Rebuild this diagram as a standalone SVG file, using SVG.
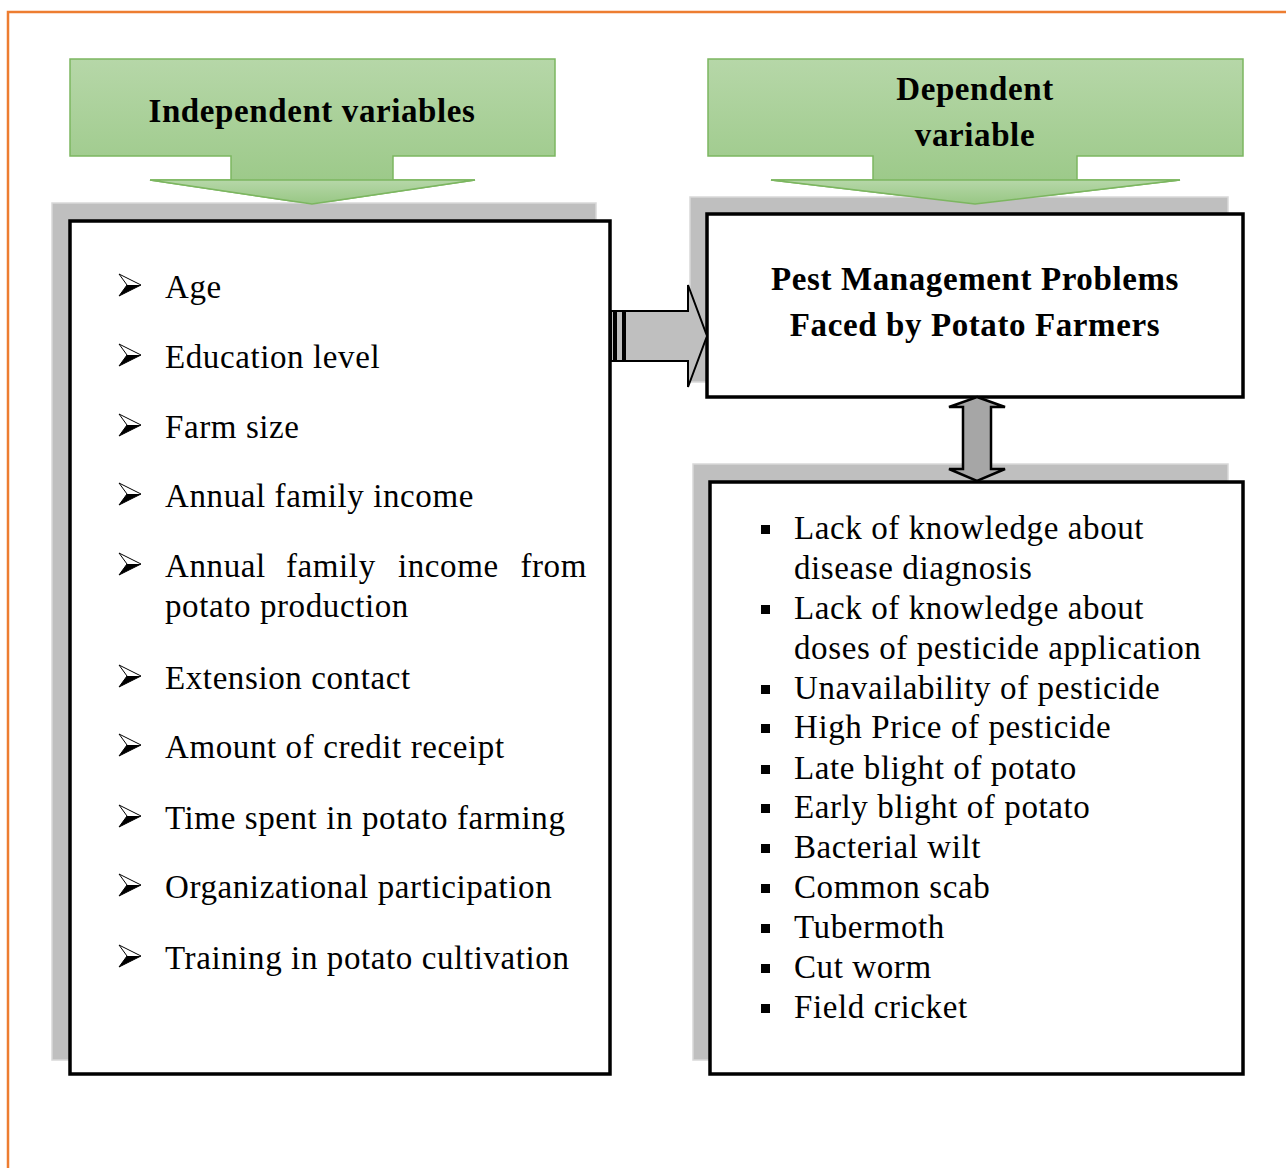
<svg xmlns="http://www.w3.org/2000/svg" width="1286" height="1168" viewBox="0 0 1286 1168">
  <style>
    .frame { fill: none; stroke: #ed7d31; stroke-width: 2.5; }
    .shadow { fill: #bfbfbf; stroke: #d9d9d9; stroke-width: 1.5; }
    .box { fill: #ffffff; stroke: #000000; stroke-width: 3.5; }
    .banner { fill: url(#greenFill); stroke: #7cb660; stroke-width: 1.5; }
    .title { font-family: "Liberation Serif", "Times New Roman", serif; font-weight: bold; font-size: 33px; letter-spacing: 0.6px; fill: #000; text-anchor: middle; }
    .item { font-family: "Liberation Serif", "Times New Roman", serif; font-size: 33px; letter-spacing: 0.6px; fill: #000; }
    .conn { fill: #bfbfbf; stroke: #000; stroke-width: 2; stroke-linejoin: miter; }
    .conn2 { fill: #a6a6a6; stroke: #000; stroke-width: 2.5; stroke-linejoin: miter; }
  </style>
  <defs>
    <linearGradient id="greenFill" x1="0" y1="0" x2="0" y2="1">
      <stop offset="0" stop-color="#b6d7a8"/>
      <stop offset="1" stop-color="#98c784"/>
    </linearGradient>
    <!-- 3D arrowhead bullet, origin at text baseline -->
    <g id="arrowBullet">
      <path d="M0,-23 L22,-12 L0,-1 L8,-12 Z" fill="#fff" stroke="#000" stroke-width="1"/>
      <path d="M8,-12 L22,-12 L0,-1 Z" fill="#000"/>
    </g>
    <rect id="sqBullet" x="0" y="-14" width="9" height="9" fill="#000"/>
  </defs>

  <rect x="8" y="12" width="1290" height="1170" class="frame"/>

  <!-- Independent variables -->
  <g id="independent-header">
    <path class="banner" d="M70,59 H555 V156 H393 V180 H475 L312,204 L150,180 H231 V156 H70 Z"/>
    <text class="title" x="312" y="122">Independent variables</text>
  </g>

  <g id="independent-list">
    <rect class="shadow" x="52" y="203" width="544" height="857"/>
    <path class="banner" d="M150,180 H475 L312,204 Z" stroke="none"/>
    <rect class="box" x="70" y="221" width="540" height="853"/>
    <use href="#arrowBullet" x="119" y="297"/>
    <text class="item" x="165" y="298">Age</text>
    <use href="#arrowBullet" x="119" y="367"/>
    <text class="item" x="165" y="368">Education level</text>
    <use href="#arrowBullet" x="119" y="437"/>
    <text class="item" x="165" y="438">Farm size</text>
    <use href="#arrowBullet" x="119" y="506"/>
    <text class="item" x="165" y="507">Annual family income</text>
    <use href="#arrowBullet" x="119" y="576"/>
    <text class="item" x="165" y="577">Annual</text>
    <text class="item" x="286" y="577">family</text>
    <text class="item" x="398" y="577">income</text>
    <text class="item" x="587" y="577" text-anchor="end">from</text>
    <text class="item" x="165" y="617">potato production</text>
    <use href="#arrowBullet" x="119" y="688"/>
    <text class="item" x="165" y="689">Extension contact</text>
    <use href="#arrowBullet" x="119" y="757"/>
    <text class="item" x="165" y="758">Amount of credit receipt</text>
    <use href="#arrowBullet" x="119" y="828"/>
    <text class="item" x="165" y="829">Time spent in potato farming</text>
    <use href="#arrowBullet" x="119" y="897"/>
    <text class="item" x="165" y="898">Organizational participation</text>
    <use href="#arrowBullet" x="119" y="968"/>
    <text class="item" x="165" y="969">Training in potato cultivation</text>
  </g>

  <!-- Dependent variable -->
  <g id="dependent-header">
    <path class="banner" d="M708,59 H1243 V156 H1077 V180 H1180 L975,204 L771,180 H873 V156 H708 Z"/>
    <text class="title" x="975" y="100">Dependent</text>
    <text class="title" x="975" y="146">variable</text>
  </g>

  <g id="dependent-box">
    <rect class="shadow" x="690" y="197" width="538" height="185"/>
    <path class="banner" d="M771,180 H1180 L975,204 Z" stroke="none"/>
    <rect class="box" x="707" y="214" width="536" height="183"/>
    <text class="title" x="975" y="290">Pest Management Problems</text>
    <text class="title" x="975" y="336">Faced by Potato Farmers</text>
  </g>

  <g id="problems-list">
    <rect class="shadow" x="693" y="464" width="535" height="596"/>
    <rect class="box" x="710" y="482" width="533" height="592"/>
    <use href="#sqBullet" x="761" y="539"/>
    <text class="item" x="794" y="539">Lack of knowledge about</text>
    <text class="item" x="794" y="579">disease diagnosis</text>
    <use href="#sqBullet" x="761" y="619"/>
    <text class="item" x="794" y="619">Lack of knowledge about</text>
    <text class="item" x="794" y="659">doses of pesticide application</text>
    <use href="#sqBullet" x="761" y="699"/>
    <text class="item" x="794" y="699">Unavailability of pesticide</text>
    <use href="#sqBullet" x="761" y="738"/>
    <text class="item" x="794" y="738">High Price of pesticide</text>
    <use href="#sqBullet" x="761" y="779"/>
    <text class="item" x="794" y="779">Late blight of potato</text>
    <use href="#sqBullet" x="761" y="818"/>
    <text class="item" x="794" y="818">Early blight of potato</text>
    <use href="#sqBullet" x="761" y="858"/>
    <text class="item" x="794" y="858">Bacterial wilt</text>
    <use href="#sqBullet" x="761" y="898"/>
    <text class="item" x="794" y="898">Common scab</text>
    <use href="#sqBullet" x="761" y="938"/>
    <text class="item" x="794" y="938">Tubermoth</text>
    <use href="#sqBullet" x="761" y="978"/>
    <text class="item" x="794" y="978">Cut worm</text>
    <use href="#sqBullet" x="761" y="1018"/>
    <text class="item" x="794" y="1018">Field cricket</text>
  </g>

  <!-- Connectors -->
  <g id="connectors">
    <!-- striped block arrow: independent -> dependent -->
    <rect class="conn" x="611" y="311" width="3" height="50" stroke-width="1.5"/>
    <rect class="conn" x="616" y="311" width="7" height="50" stroke-width="1.5"/>
    <path class="conn" d="M625,311 H688 V285 L707,336 L688,387 V361 H625 Z"/>
    <!-- two-way arrow: dependent <-> problems -->
    <path class="conn2" d="M977,397 L1005,407 H991 V469 H1005 L977,481 L949,469 H963 V407 H949 Z"/>
  </g>
</svg>
